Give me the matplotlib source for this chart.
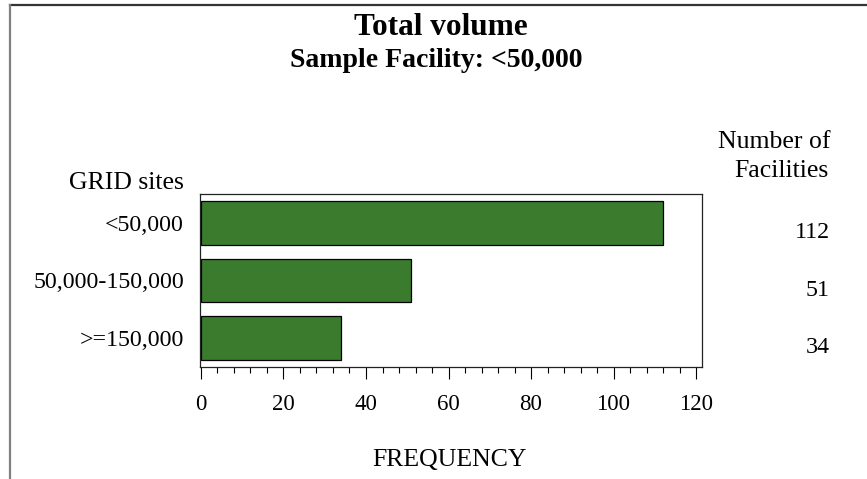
import matplotlib
matplotlib.use("Agg")
import matplotlib.pyplot as plt
from matplotlib.lines import Line2D
from matplotlib.ticker import MultipleLocator
from matplotlib.transforms import ScaledTranslation, blended_transform_factory

# data
sites = ["<50,000", "50,000-150,000", ">=150,000"]
counts = [112, 51, 34]
x_ticks = [0, 20, 40, 60, 80, 100, 120]

plt.rcParams["font.family"] = ["Liberation Serif", "DejaVu Serif"]

W, H = 867, 479
fig = plt.figure(figsize=(W / 100, H / 100), dpi=100)

def fx(px):
    return px / W

def fy(py):
    return 1 - py / H

# page frame lines (top and left)
fig.add_artist(Line2D([fx(10), 1], [fy(5), fy(5)], color="#333333", lw=1.6))
fig.add_artist(Line2D([fx(10), fx(10)], [0, fy(5)], color="#808080", lw=1.6))

ax = fig.add_axes([fx(200), fy(367), fx(702) - fx(200), fy(194) - fy(367)])

ypos = list(range(len(sites)))
ax.barh(ypos, counts, height=0.76, color="#3a7b2e", edgecolor="black", linewidth=0.9)

ax.set_ylim(len(sites) - 0.5, -0.5)
ax.set_xlim(-0.24, 121.45)
ax.set_yticks(ypos)
ax.set_yticklabels(sites, fontsize=17.2)
ax.tick_params(axis="y", length=0, pad=11.5)
ax.set_xticks(x_ticks)
ax.xaxis.set_minor_locator(MultipleLocator(4))
ax.tick_params(axis="x", which="major", length=8.6, width=0.8, pad=11, labelsize=16.5, direction="out")
ax.tick_params(axis="x", which="minor", length=4.3, width=0.8, direction="out")
for s in ax.spines.values():
    s.set_linewidth(0.9)
    s.set_color("#222222")

# counts on the right
trans = blended_transform_factory(fig.transFigure, ax.transData) + ScaledTranslation(0, -9.5 / 100, fig.dpi_scale_trans)
for y, c in zip(ypos, counts):
    ax.text(fx(830), y, str(c), transform=trans, ha="right", va="center", fontsize=17.3)

fig.text(fx(441), fy(35), "Total volume", ha="center", va="baseline", fontsize=22.5, fontweight="bold")
fig.text(fx(436), fy(67), "Sample Facility: <50,000", ha="center", va="baseline", fontsize=20, fontweight="bold")
fig.text(fx(184), fy(189), "GRID sites", ha="right", va="baseline", fontsize=18.5)
fig.text(fx(830), fy(148), "Number of", ha="right", va="baseline", fontsize=18.5)
fig.text(fx(829), fy(177), "Facilities", ha="right", va="baseline", fontsize=18.5)
fig.text(fx(449), fy(466), "FREQUENCY", ha="center", va="baseline", fontsize=18.5)

fig.savefig("out.png", dpi=100)
